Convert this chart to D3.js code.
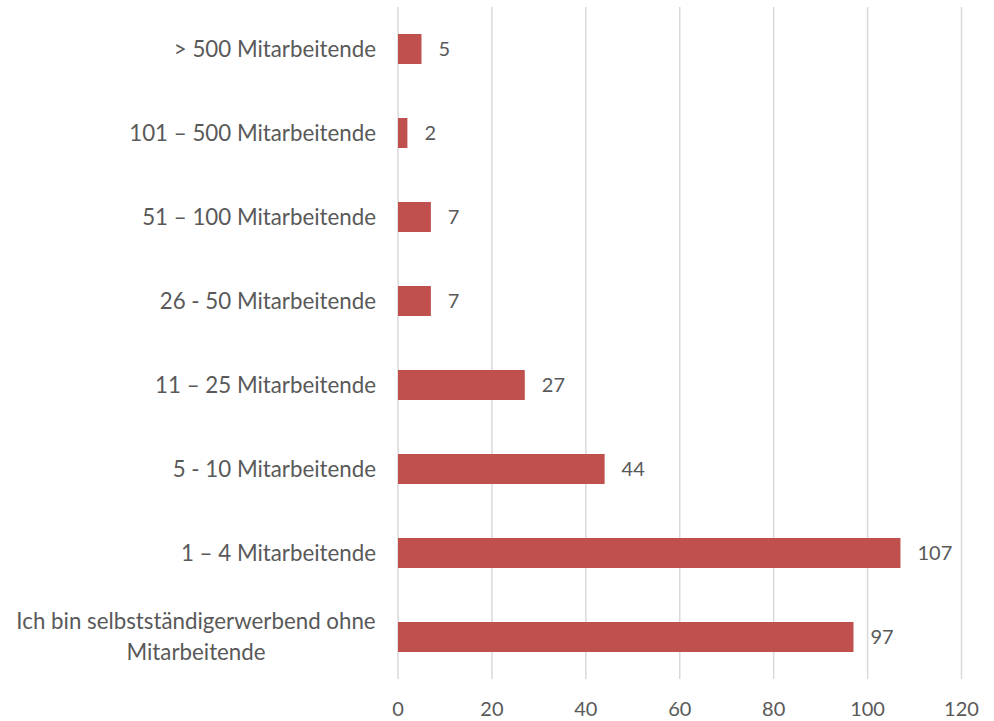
<!DOCTYPE html>
<html>
<head>
<meta charset="utf-8">
<script src="https://cdn.jsdelivr.net/npm/d3@7"></script>
<style>
  body { margin: 0; background: #fff; }
  text { font-family: Lato, "Open Sans", "Liberation Sans", sans-serif; fill: #595959; }
</style>
</head>
<body>
<svg id="chart" width="994" height="721"></svg>
<script>
// data //
const categories = [
    "> 500 Mitarbeitende",
    "101 – 500 Mitarbeitende",
    "51 – 100 Mitarbeitende",
    "26 - 50 Mitarbeitende",
    "11 – 25 Mitarbeitende",
    "5 - 10 Mitarbeitende",
    "1 – 4 Mitarbeitende",
    "Ich bin selbstständigerwerbend ohne Mitarbeitende"
]
const values = [5, 2, 7, 7, 27, 44, 107, 97]
const xTicks = [0, 20, 40, 60, 80, 100, 120]

// labels that wrap onto two lines
const wrapped = {
    "Ich bin selbstständigerwerbend ohne Mitarbeitende": ["Ich bin selbstständigerwerbend ohne", "Mitarbeitende"]
}

const numSize = 20
const labelSize = 22.3

const svg = d3.select("#chart")
const plotLeft = 398, plotRight = 961.5, plotTop = 7, plotBottom = 679

const x = d3.scaleLinear().domain([0, 120]).range([plotLeft, plotRight])
const y = d3.scaleBand().domain(categories).range([plotTop, plotBottom]).paddingInner(0.643).paddingOuter(0.3215)

// gridlines //
svg.append("g")
    .selectAll("line")
    .data(xTicks)
    .enter()
    .append("line")
    .attr("x1", d => x(d)).attr("x2", d => x(d))
    .attr("y1", plotTop).attr("y2", plotBottom)
    .attr("stroke", "#d9d9d9")
    .attr("stroke-width", 1.5)

// bars //
svg.append("g")
    .selectAll("rect")
    .data(values)
    .enter()
    .append("rect")
    .attr("x", x(0))
    .attr("y", (d, i) => y(categories[i]))
    .attr("width", d => x(d) - x(0))
    .attr("height", y.bandwidth())
    .attr("fill", "#c0504d")

// value labels //
svg.append("g")
    .selectAll("text")
    .data(values)
    .enter()
    .append("text")
    .attr("x", d => x(d) + 17)
    .attr("y", (d, i) => y(categories[i]) + y.bandwidth() / 2)
    .attr("dy", "0.35em")
    .attr("font-size", numSize)
    .text(d => d)

// x tick labels //
svg.append("g")
    .selectAll("text")
    .data(xTicks)
    .enter()
    .append("text")
    .attr("x", d => x(d))
    .attr("y", 709)
    .attr("dy", "0.35em")
    .attr("text-anchor", "middle")
    .attr("font-size", numSize)
    .text(d => d)

// category labels //
const catG = svg.append("g")
categories.forEach(c => {
    const cy = y(c) + y.bandwidth() / 2
    if (wrapped[c]) {
        const lines = wrapped[c]
        const t = catG.append("text")
            .attr("text-anchor", "middle")
            .attr("font-size", labelSize)
        lines.forEach((l, k) => {
            t.append("tspan")
                .attr("x", 196)
                .attr("y", cy + (k - (lines.length - 1) / 2) * 31)
                .attr("dy", "0.35em")
                .text(l)
        })
    } else {
        catG.append("text")
            .attr("x", 376)
            .attr("y", cy)
            .attr("dy", "0.35em")
            .attr("text-anchor", "end")
            .attr("font-size", labelSize)
            .text(c)
    }
})
</script>
</body>
</html>
